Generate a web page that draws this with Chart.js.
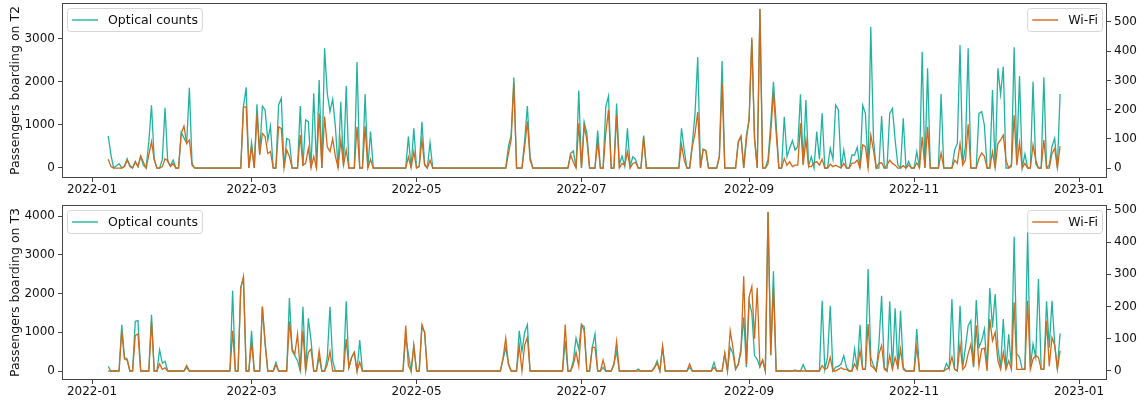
<!DOCTYPE html>
<html>
<head>
<meta charset="utf-8">
<script src="https://cdn.jsdelivr.net/npm/chart.js@4.4.0/dist/chart.umd.min.js"></script>
<style>
  body { margin: 0; background: #fff; width: 1143px; height: 403px; overflow: hidden; }
  .box { position: absolute; left: 0; width: 1143px; }
</style>
</head>
<body>
<div class="box" style="top:0;height:200px"><canvas id="t2"></canvas></div>
<div class="box" style="top:200px;height:203px"><canvas id="t3"></canvas></div>
<script>
// daily values, first entry = 2022-01-07 (day 6 counted from 2022-01-01)
const firstDay = 6;
const tickDays = [0, 59, 120, 181, 243, 304, 365];
const tickLabels = ['2022-01', '2022-03', '2022-05', '2022-07', '2022-09', '2022-11', '2023-01'];

const opticalT2 = [744,300,0,50,100,0,40,217,30,0,
150,30,270,60,0,600,1457,200,0,0,
200,1400,150,50,186,0,0,830,700,574,
1868,100,0,0,0,0,0,0,0,0,
0,0,0,0,0,0,0,0,0,0,
1426,1875,0,590,0,1480,340,1440,1350,650,
976,0,0,1465,1620,0,690,650,0,0,
0,1440,40,1116,1077,0,1736,0,2046,0,
2782,1736,1310,1600,961,0,1540,40,1906,0,
0,0,2465,0,0,1720,0,845,0,0,
0,0,0,0,0,0,0,0,0,0,
0,728,0,922,0,40,1077,100,0,590,
0,0,0,0,0,0,0,0,0,0,
0,0,0,0,0,0,0,0,0,0,
0,0,0,0,0,0,0,0,500,770,
2108,0,0,0,650,1440,264,0,0,0,
0,0,0,0,0,0,0,0,0,0,
0,340,400,0,1800,0,1070,806,0,0,
0,868,0,0,1426,1674,0,0,1500,80,
279,40,922,40,263,200,0,0,752,0,
0,0,0,0,0,0,0,0,0,0,
0,0,922,418,0,0,570,1271,2573,0,
434,400,0,0,0,0,263,2488,0,0,
0,0,0,610,728,0,767,1116,2976,700,
0,3700,0,0,200,1038,2007,1038,0,0,
1193,263,457,635,418,496,1713,100,1581,50,
263,0,845,200,1271,0,0,457,200,1465,
1349,0,418,0,0,302,302,480,0,1457,
1271,0,3287,650,0,0,1209,0,0,1271,
1387,650,70,0,1155,0,150,0,0,380,
0,2705,0,2317,0,0,0,0,1720,0,
0,0,0,418,570,2860,100,500,2782,0,
0,0,1271,1310,1000,0,0,1813,0,2317,
1713,2356,0,0,80,2806,263,2140,0,325,
0,0,2007,100,0,0,2108,0,70,496,
690,0,1720];

const wifiT2 = [30,5,0,0,0,0,5,27,10,0,
22,5,41,20,0,45,90,30,0,0,
5,32,25,5,15,0,0,119,144,85,
96,10,0,0,0,0,0,0,0,0,
0,0,0,0,0,0,0,0,0,0,
208,210,0,73,0,185,45,119,108,50,
56,0,0,141,136,0,62,40,0,0,
0,113,10,16,67,0,40,0,187,0,
176,73,56,100,40,0,96,10,62,0,
0,0,141,0,0,143,0,30,0,0,
0,0,0,0,0,0,0,0,0,0,
0,38,0,56,0,5,96,10,0,27,
0,0,0,0,0,0,0,0,0,0,
0,0,0,0,0,0,0,0,0,0,
0,0,0,0,0,0,0,0,50,96,
290,0,0,0,73,160,27,0,0,0,
0,0,0,0,0,0,0,0,0,0,
0,45,20,0,153,0,144,96,0,0,
0,90,0,0,119,199,0,0,181,0,
16,10,56,0,16,20,0,0,107,0,
0,0,0,0,0,0,0,0,0,0,
0,0,79,27,0,0,73,119,192,0,
64,60,0,0,0,0,40,290,0,0,
0,0,0,90,110,0,96,170,447,100,
0,545,0,0,15,119,261,119,0,0,
33,10,22,5,10,10,153,10,98,5,
5,18,22,10,30,0,0,13,5,10,
5,0,16,0,0,16,18,27,0,79,
73,0,113,60,0,16,18,0,10,27,
16,10,0,0,8,0,10,0,0,18,
0,107,0,141,0,0,0,0,52,0,
0,0,0,27,16,84,10,27,150,0,
0,0,33,52,40,0,0,56,0,84,
96,113,27,0,5,181,10,87,0,16,
0,0,79,27,0,0,96,0,0,50,
67,0,75];

const opticalT3 = [120,0,0,0,0,1195,350,310,0,0,
1281,1300,0,0,0,0,1453,0,0,542,
200,250,0,0,0,0,0,0,0,95,
0,0,0,0,0,0,0,0,0,0,
0,0,0,0,0,0,2073,0,0,2159,
2400,0,0,1040,0,0,0,1660,700,0,
0,0,224,0,0,0,0,1883,524,396,
267,0,1660,0,1359,783,0,0,353,0,
0,350,1660,267,0,0,0,0,1797,90,
353,482,0,800,0,0,0,0,0,0,
0,0,0,0,0,0,0,0,0,0,
869,438,0,654,0,0,1144,1000,0,0,
0,0,0,0,0,0,0,0,0,0,
0,0,0,0,0,0,0,0,0,0,
0,0,0,0,0,0,300,600,200,0,
0,0,1040,500,1000,1195,0,0,0,0,
0,0,0,0,0,0,0,0,0,780,
0,0,267,851,568,1195,1144,0,0,610,
955,0,0,95,0,0,0,180,507,0,
0,0,0,0,0,0,52,0,0,0,
0,0,100,267,0,636,0,0,0,0,
0,0,0,0,0,95,0,0,0,0,
0,0,0,0,224,0,0,0,456,0,
610,456,50,180,600,1385,100,1800,1500,400,
300,100,280,0,4100,400,2571,0,0,0,
0,0,0,0,25,0,0,163,0,0,
0,0,0,0,1815,40,353,1686,0,100,
120,180,396,95,0,0,568,50,1195,50,
50,2632,353,140,0,697,1944,95,0,1797,
50,1617,50,1557,95,0,0,0,0,1083,
0,0,0,0,0,0,0,0,0,0,
198,50,1858,50,0,1686,95,610,1170,1300,
95,1832,610,783,1083,50,2141,1127,1987,610,
95,1342,50,950,95,3466,440,353,50,50,
3578,95,697,353,2374,50,50,1797,600,1815,
700,50,972];

const wifiT3 = [0,0,0,0,0,125,37,34,0,0,
110,115,0,0,0,0,154,0,0,22,
5,10,0,0,0,0,0,0,0,17,
0,0,0,0,0,0,0,0,0,0,
0,0,0,0,0,0,125,0,0,255,
293,0,0,89,0,0,0,200,90,0,
0,0,19,0,0,0,0,154,68,53,
115,0,125,0,58,68,0,0,63,0,
0,20,61,0,0,0,0,0,99,10,
42,58,0,27,0,0,0,0,0,0,
0,0,0,0,0,0,0,0,0,0,
141,17,0,79,0,0,144,120,0,0,
0,0,0,0,0,0,0,0,0,0,
0,0,0,0,0,0,0,0,0,0,
0,0,0,0,0,0,40,102,20,0,
0,0,79,0,80,104,0,0,0,0,
0,0,0,0,0,0,0,0,0,144,
0,0,20,58,15,144,125,0,0,73,
73,0,0,34,0,0,0,20,92,0,
0,0,0,0,0,0,0,0,0,0,
0,0,10,24,0,77,0,0,0,0,
0,0,0,0,0,22,0,0,0,0,
0,0,0,0,11,0,0,0,55,0,
125,73,5,20,60,294,20,230,262,100,
258,15,34,0,494,50,260,0,0,0,
0,0,0,0,0,0,0,0,0,0,
0,0,0,0,17,5,10,42,0,0,
5,10,5,5,0,0,22,5,63,5,
5,146,17,10,0,53,79,5,0,48,
5,42,10,68,5,0,0,0,0,75,
0,0,0,0,0,0,0,0,0,0,
6,10,44,5,0,82,5,15,53,82,
15,141,15,68,71,0,161,94,120,32,
5,58,5,32,5,213,5,5,5,5,
218,5,37,48,42,5,5,156,15,104,
80,5,63];

const TEAL = '#22b3a0';
const ORANGE = '#d2691a';

Chart.defaults.font.family = '"DejaVu Sans", sans-serif';
Chart.defaults.font.size = 12;
Chart.defaults.color = '#111';

const pts = arr => arr.map((v, i) => ({ x: firstDay + i, y: v }));

// no extra room for half tick labels: the plot box is placed by hand
const noPad = s => { s.paddingTop = 0; s.paddingBottom = 0; s.paddingLeft = 0; s.paddingRight = 0; };

// frame round the plot area (matplotlib spines)
const frame = {
  id: 'frame',
  afterDatasetsDraw(chart) {
    const { ctx, chartArea: a } = chart;
    ctx.save();
    ctx.strokeStyle = '#444';
    ctx.lineWidth = 1;
    ctx.strokeRect(Math.round(a.left) + 0.5, Math.round(a.top) + 0.5,
      Math.round(a.right - a.left) - 1, Math.round(a.bottom - a.top) - 1);
    ctx.restore();
  }
};

// two legend boxes inside the axes, one per side
const insideLegend = {
  id: 'insideLegend',
  afterDraw(chart, args, opts) {
    const { ctx, chartArea: a } = chart;
    ctx.save();
    ctx.font = '12.5px "DejaVu Sans"';
    opts.items.forEach(it => {
      const tw = ctx.measureText(it.text).width;
      const w = 40 + tw + 5, h = 23;
      const x = it.side === 'left' ? Math.round(a.left) + 5 : Math.round(a.right) - 5 - w;
      const y = Math.round(a.top) + 5;
      ctx.fillStyle = 'rgba(255,255,255,0.85)';
      ctx.strokeStyle = '#d6d6d6';
      ctx.lineWidth = 1;
      ctx.beginPath();
      ctx.roundRect(x + 0.5, y + 0.5, w, h, 3);
      ctx.fill();
      ctx.stroke();
      ctx.strokeStyle = it.color;
      ctx.lineWidth = 1.4;
      ctx.beginPath();
      ctx.moveTo(x + 5, y + h / 2 + 0.5);
      ctx.lineTo(x + 31, y + h / 2 + 0.5);
      ctx.stroke();
      ctx.fillStyle = '#111';
      ctx.textBaseline = 'middle';
      ctx.fillText(it.text, x + 41, y + h / 2 + 1);
    });
    ctx.restore();
  }
};

function makeChart(id, optical, wifi, cfg) {
  return new Chart(document.getElementById(id), {
    type: 'line',
    data: {
      datasets: [
        { label: 'Wi-Fi', data: pts(wifi), yAxisID: 'yR', borderColor: ORANGE, order: 0 },
        { label: 'Optical counts', data: pts(optical), yAxisID: 'yL', borderColor: TEAL, order: 1 }
      ]
    },
    options: {
      responsive: true,
      maintainAspectRatio: false,
      animation: false,
      devicePixelRatio: 1,
      layout: { padding: { top: cfg.padTop, left: 0, right: 0, bottom: 0 } },
      elements: {
        point: { radius: 0 },
        line: { borderWidth: 1.3, tension: 0, fill: false }
      },
      scales: {
        x: {
          type: 'linear',
          min: -11.1,
          max: 375.35,
          afterBuildTicks: s => { s.ticks = tickDays.map(v => ({ value: v })); },
          afterFit: s => { s.height = cfg.xHeight; noPad(s); },
          ticks: {
            padding: 1,
            maxRotation: 0,
            callback: v => tickLabels[tickDays.indexOf(v)]
          },
          grid: { drawOnChartArea: false, tickLength: 4, color: '#444' },
          border: { display: false }
        },
        yL: {
          position: 'left',
          min: cfg.left[0],
          max: cfg.left[1],
          afterBuildTicks: s => { s.ticks = cfg.leftTicks.map(v => ({ value: v })); },
          afterFit: s => { s.width = 62; noPad(s); },
          ticks: { padding: 3, callback: v => String(v) },
          grid: { drawOnChartArea: false, tickLength: 4, color: '#444' },
          border: { display: false },
          title: { display: true, text: cfg.title, padding: { top: 8, bottom: 0 }, font: { size: 12.5 } }
        },
        yR: {
          position: 'right',
          min: cfg.right[0],
          max: cfg.right[1],
          afterBuildTicks: s => { s.ticks = [0, 100, 200, 300, 400, 500].map(v => ({ value: v })); },
          afterFit: s => { s.width = 36; noPad(s); },
          ticks: { padding: 3, callback: v => String(v) },
          grid: { drawOnChartArea: false, tickLength: 4, color: '#444' },
          border: { display: false }
        }
      },
      plugins: {
        legend: { display: false },
        tooltip: { enabled: false },
        insideLegend: {
          items: [
            { side: 'left', text: 'Optical counts', color: TEAL },
            { side: 'right', text: 'Wi-Fi', color: ORANGE }
          ]
        }
      }
    },
    plugins: [frame, insideLegend]
  });
}

makeChart('t2', opticalT2, wifiT2, {
  padTop: 3, xHeight: 22,
  left: [-233, 3837], leftTicks: [0, 1000, 2000, 3000],
  right: [-34, 565],
  title: 'Passengers boarding on T2'
});

makeChart('t3', opticalT3, wifiT3, {
  padTop: 5, xHeight: 23,
  left: [-232, 4284], leftTicks: [0, 1000, 2000, 3000, 4000],
  right: [-28, 515],
  title: 'Passengers boarding on T3'
});
</script>
</body>
</html>
